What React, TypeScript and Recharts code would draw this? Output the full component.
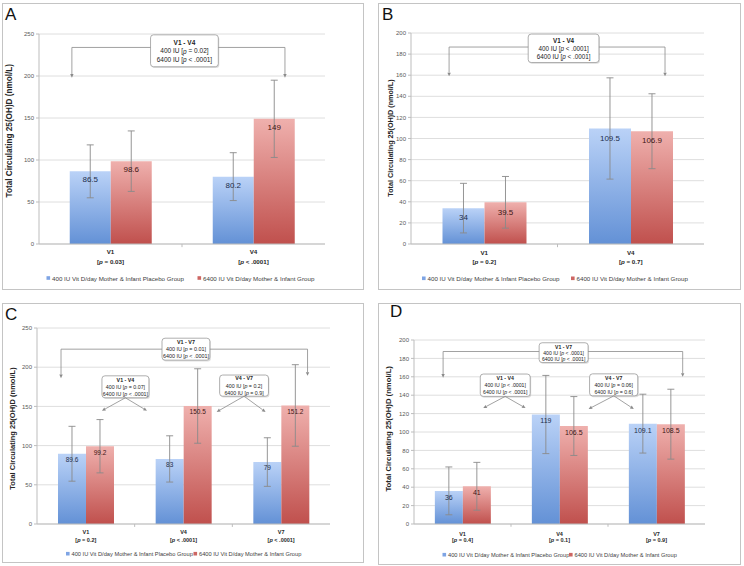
import React from 'react';
import {
  BarChart,
  Bar,
  XAxis,
  YAxis,
  CartesianGrid,
  ErrorBar,
  LabelList,
  ReferenceLine,
  ReferenceArea,
} from 'recharts';

// ---------------- DATA ----------------
const seriesNames = [
  '400 IU Vit D/day Mother & Infant Placebo Group',
  '6400 IU Vit D/day Mother & Infant Group',
];
const yAxisTitle = 'Total Circulating 25(OH)D (nmol/L)';

// Panel A
const catsA = ['V1', 'V4'];
const pA = [' = 0.03', ' < .0001'];
const placeboA = [86.5, 80.2];
const placeboErrA = [31.5, 28.5];
const highA = [98.6, 149];
const highErrA = [36, 46];
const ticksA = [0, 50, 100, 150, 200, 250];
const boxA = [{ title: 'V1 - V4', low: ' = 0.02', high: ' < .0001' }];

// Panel B
const catsB = ['V1', 'V4'];
const pB = [' = 0.2', ' = 0.7'];
const placeboB = [34, 109.5];
const placeboErrB = [23.5, 48];
const highB = [39.5, 106.9];
const highErrB = [24.5, 35.5];
const ticksB = [0, 20, 40, 60, 80, 100, 120, 140, 160, 180, 200];
const boxB = [{ title: 'V1 - V4', low: ' < .0001', high: ' < .0001' }];

// Panel C
const catsC = ['V1', 'V4', 'V7'];
const pC = [' = 0.2', ' < .0001', ' < .0001'];
const placeboC = [89.6, 83, 79];
const placeboErrC = [35, 29.5, 31];
const highC = [99.2, 150.5, 151.2];
const highErrC = [34, 47.5, 52];
const ticksC = [0, 50, 100, 150, 200, 250];
const boxC = [
  { title: 'V1 - V7', low: ' = 0.01', high: ' < .0001' },
  { title: 'V1 - V4', low: ' = 0.07', high: ' < .0001' },
  { title: 'V4 - V7', low: ' = 0.2', high: ' = 0.9' },
];

// Panel D
const catsD = ['V1', 'V4', 'V7'];
const pD = [' = 0.4', ' = 0.1', ' = 0.9'];
const placeboD = [36, 119, 109.1];
const placeboErrD = [26, 42.5, 32];
const highD = [41, 106.5, 108.5];
const highErrD = [26, 32, 38];
const ticksD = [0, 20, 40, 60, 80, 100, 120, 140, 160, 180, 200];
const boxD = [
  { title: 'V1 - V7', low: ' < .0001', high: ' < .0001' },
  { title: 'V1 - V4', low: ' < .0001', high: ' < .0001' },
  { title: 'V4 - V7', low: ' = 0.06', high: ' = 0.6' },
];

// ---------------- STYLE / LAYOUT ----------------
const FONT = '"Liberation Sans", Arial, sans-serif';
const LINE = '#8a8a8a';
const AXIS = '#bdbdbd';
const GRID = '#dedede';
const TXT = '#262626';

type BoxText = { title: string; low: string; high: string };

const panels = [
  {
    id: 'A',
    left: 2, top: 3, width: 362, height: 287,
    margin: { top: 31, right: 39, bottom: 22, left: 0 },
    yAxisWidth: 37, xAxisHeight: 24,
    cats: catsA, ps: pA, placebo: placeboA, placeboErr: placeboErrA, high: highA, highErr: highErrA,
    yMax: 250, ticks: ticksA,
    xFont: 6.2, xDy: [10.2, 20.2], yTickFont: 6,
    valueFont: 8, valueOffset: 5.2,
    yLabel: { x: 8, cy: 127.7, font: 8.2 },
    letter: { x: 5, y: 20 },
    legend: { y: 278, sq: [46.5, 197.5], font: 6.2 },
    boxes: [{ x1: 0.78, x2: 1.254, y1: 211, y2: 249, text: boxA[0], font: 6.5, gap: 8.5 }],
    brackets: [{ x1: 0.23, x2: 1.72, y: 234, tipL: 198, tipR: 198, gx1: 0.78, gx2: 1.254 }],
    arrows: [] as number[][],
  },
  {
    id: 'B',
    left: 378, top: 3, width: 363, height: 287,
    margin: { top: 30, right: 37, bottom: 22, left: 0 },
    yAxisWidth: 33, xAxisHeight: 24,
    cats: catsB, ps: pB, placebo: placeboB, placeboErr: placeboErrB, high: highB, highErr: highErrB,
    yMax: 200, ticks: ticksB,
    xFont: 6.2, xDy: [11, 20], yTickFont: 6,
    valueFont: 8, valueOffset: 6.5,
    yLabel: { x: 12, cy: 135, font: 7.2 },
    letter: { x: 382, y: 19.5 },
    legend: { y: 278.3, sq: [422, 571], font: 6.2 },
    boxes: [{ x1: 0.8, x2: 1.283, y1: 172, y2: 199, text: boxB[0], font: 6.3, gap: 8 }],
    brackets: [{ x1: 0.26, x2: 1.734, y: 186.7, tipL: 159, tipR: 159, gx1: 0.8, gx2: 1.283 }],
    arrows: [] as number[][],
  },
  {
    id: 'C',
    left: 2, top: 303, width: 362, height: 260,
    margin: { top: 25, right: 34, bottom: 17, left: 0 },
    yAxisWidth: 35, xAxisHeight: 22,
    cats: catsC, ps: pC, placebo: placeboC, placeboErr: placeboErrC, high: highC, highErr: highErrC,
    yMax: 250, ticks: ticksC,
    xFont: 5.5, xDy: [10, 17.5], yTickFont: 6,
    valueFont: 6.5, valueOffset: 3.7,
    yLabel: { x: 10, cy: 125.5, font: 7.5 },
    letter: { x: 5, y: 320 },
    legend: { y: 553.7, sq: [66, 193.5], font: 5.7 },
    boxes: [
      { x1: 1.28, x2: 1.77, y1: 209, y2: 237, text: boxC[0], font: 5.4, gap: 7 },
      { x1: 0.665, x2: 1.146, y1: 161, y2: 189, text: boxC[1], font: 5.3, gap: 7.2 },
      { x1: 1.87, x2: 2.37, y1: 163, y2: 190, text: boxC[2], font: 5.3, gap: 7.2 },
    ],
    brackets: [{ x1: 0.246, x2: 2.77, y: 223, tipL: 186, tipR: 189, gx1: 1.28, gx2: 1.77 }],
    arrows: [
      [0.905, 161, 0.665, 144.5],
      [0.905, 161, 1.126, 144.5],
      [2.12, 163, 1.84, 143],
      [2.12, 163, 2.34, 143],
    ],
  },
  {
    id: 'D',
    left: 378, top: 303, width: 363, height: 262,
    margin: { top: 37, right: 36, bottom: 19, left: 0 },
    yAxisWidth: 36, xAxisHeight: 22,
    cats: catsD, ps: pD, placebo: placeboD, placeboErr: placeboErrD, high: highD, highErr: highErrD,
    yMax: 200, ticks: ticksD,
    xFont: 5.5, xDy: [11.5, 18.3], yTickFont: 6,
    valueFont: 7, valueOffset: 4,
    yLabel: { x: 11, cy: 125.8, font: 7.7 },
    letter: { x: 390, y: 316.5 },
    legend: { y: 554.7, sq: [442.5, 569], font: 5.7 },
    boxes: [
      { x1: 1.29, x2: 1.795, y1: 175.5, y2: 197, text: boxD[0], font: 5.1, gap: 6 },
      { x1: 0.683, x2: 1.198, y1: 138.7, y2: 163, text: boxD[1], font: 5.2, gap: 7 },
      { x1: 1.81, x2: 2.307, y1: 139.3, y2: 163.2, text: boxD[2], font: 5.2, gap: 7 },
    ],
    brackets: [{ x1: 0.3, x2: 2.77, y: 187.5, tipL: 159, tipR: 160, gx1: 1.29, gx2: 1.795 }],
    arrows: [
      [0.94, 138.7, 0.714, 126],
      [0.94, 138.7, 1.15, 126],
      [2.06, 139.3, 1.8, 125],
      [2.06, 139.3, 2.266, 125],
    ],
  },
];

type Panel = (typeof panels)[number];

// ---------------- SHAPES ----------------
const lineShape = (head: boolean) => (props: any) => {
  const { x1, y1, x2, y2 } = props;
  const a = Math.atan2(y2 - y1, x2 - x1);
  const L = 3.6;
  const W = 1.7;
  const bx = x2 - L * Math.cos(a);
  const by = y2 - L * Math.sin(a);
  const px = -Math.sin(a) * W;
  const py = Math.cos(a) * W;
  return (
    <g>
      <line x1={x1} y1={y1} x2={head ? bx : x2} y2={head ? by : y2} stroke={LINE} strokeWidth={0.8} />
      {head && (
        <polygon
          points={`${x2},${y2} ${bx + px},${by + py} ${bx - px},${by - py}`}
          fill={LINE}
        />
      )}
    </g>
  );
};

const tickShape = (props: any) => {
  const { x1, y1, x2, y2 } = props;
  return <line x1={x1} y1={y1} x2={x2} y2={y2} stroke={AXIS} strokeWidth={1} />;
};

const boxShape = (t: BoxText, font: number, gap: number) => (props: any) => {
  const { x, y, width, height } = props;
  if (![x, y, width, height].every((v) => Number.isFinite(v))) return <g />;
  const cx = x + width / 2;
  const cy = y + height / 2;
  const common = {
    x: cx,
    textAnchor: 'middle' as const,
    dominantBaseline: 'central' as const,
    fontSize: font,
    fill: '#222',
  };
  return (
    <g>
      <rect x={x + 1} y={y + 1.3} width={width} height={height} rx={3} fill="#000" opacity={0.13} />
      <rect x={x} y={y} width={width} height={height} rx={3} fill="#fff" stroke="#9a9a9a" strokeWidth={0.8} />
      <text {...common} y={cy - gap} fontWeight="bold">{t.title}</text>
      <text {...common} y={cy}>
        {'400 IU ['}
        <tspan fontStyle="italic">p</tspan>
        {t.low + ']'}
      </text>
      <text {...common} y={cy + gap}>
        {'6400 IU ['}
        <tspan fontStyle="italic">p</tspan>
        {t.high + ']'}
      </text>
    </g>
  );
};

const makeXTick = (p: Panel) => (props: any) => {
  const { x, y, payload, index } = props;
  const i = typeof index === 'number' ? index : p.cats.indexOf(payload.value);
  return (
    <g transform={`translate(${x},${y})`}>
      <text textAnchor="middle" y={p.xDy[0]} fontSize={p.xFont} fontWeight="bold" fill={TXT}>
        {payload.value}
      </text>
      <text textAnchor="middle" y={p.xDy[1]} fontSize={p.xFont} fontWeight="bold" fill={TXT}>
        {'['}
        <tspan fontStyle="italic">p</tspan>
        {p.ps[i] + ']'}
      </text>
    </g>
  );
};

const makeYLabel = (p: Panel) => () => {
  const { x, cy, font } = p.yLabel;
  return (
    <text
      x={x}
      y={cy}
      transform={`rotate(-90 ${x} ${cy})`}
      textAnchor="middle"
      dominantBaseline="central"
      fontSize={font}
      fontWeight="bold"
      fill={TXT}
    >
      {yAxisTitle}
    </text>
  );
};

function annotationElements(p: Panel) {
  const els: React.ReactNode[] = [];
  const n = p.cats.length;
  const depth = p.yMax * 0.015;
  for (let k = 1; k < n; k++) {
    els.push(
      <ReferenceLine
        key={`tk${k}`}
        xAxisId="ann"
        ifOverflow="visible"
        segment={[{ x: k, y: 0 }, { x: k, y: -depth }]}
        shape={tickShape}
      />
    );
  }
  p.brackets.forEach((b, bi) => {
    els.push(
      <ReferenceLine key={`bl${bi}`} xAxisId="ann" segment={[{ x: b.x1, y: b.y }, { x: b.x1, y: b.tipL }]} shape={lineShape(true)} />,
      <ReferenceLine key={`bh1${bi}`} xAxisId="ann" segment={[{ x: b.x1, y: b.y }, { x: b.gx1, y: b.y }]} shape={lineShape(false)} />,
      <ReferenceLine key={`bh2${bi}`} xAxisId="ann" segment={[{ x: b.gx2, y: b.y }, { x: b.x2, y: b.y }]} shape={lineShape(false)} />,
      <ReferenceLine key={`br${bi}`} xAxisId="ann" segment={[{ x: b.x2, y: b.y }, { x: b.x2, y: b.tipR }]} shape={lineShape(true)} />
    );
  });
  p.arrows.forEach((a, ai) => {
    els.push(
      <ReferenceLine
        key={`ar${ai}`}
        xAxisId="ann"
        segment={[{ x: a[0], y: a[1] }, { x: a[2], y: a[3] }]}
        shape={lineShape(true)}
      />
    );
  });
  p.boxes.forEach((bx, i) => {
    els.push(
      <ReferenceArea
        key={`bx${i}`}
        xAxisId="ann"
        x1={bx.x1}
        x2={bx.x2}
        y1={bx.y1}
        y2={bx.y2}
        shape={boxShape(bx.text, bx.font, bx.gap)}
      />
    );
  });
  return els;
}

function PanelChart({ p }: { p: Panel }) {
  const rows = p.cats.map((c, i) => ({
    cat: c,
    pos: i + 0.5,
    placebo: p.placebo[i],
    placeboErr: p.placeboErr[i],
    high: p.high[i],
    highErr: p.highErr[i],
  }));
  const gb = `gBlue${p.id}`;
  const gr = `gRed${p.id}`;
  return (
    <BarChart
      width={p.width}
      height={p.height}
      data={rows}
      margin={p.margin}
      barCategoryGap="21.5%"
      barGap={0}
    >
      <defs>
        <linearGradient id={gb} x1="0" y1="0" x2="0" y2="1">
          <stop offset="0%" stopColor="#bad2f7" />
          <stop offset="100%" stopColor="#6391d6" />
        </linearGradient>
        <linearGradient id={gr} x1="0" y1="0" x2="0" y2="1">
          <stop offset="0%" stopColor="#efb0ad" />
          <stop offset="100%" stopColor="#c0504d" />
        </linearGradient>
      </defs>
      <CartesianGrid vertical={false} stroke={GRID} />
      <XAxis
        dataKey="cat"
        interval={0}
        height={p.xAxisHeight}
        tickLine={false}
        tickSize={0}
        tickMargin={0}
        axisLine={{ stroke: AXIS }}
        tick={makeXTick(p)}
      />
      <XAxis
        xAxisId="ann"
        dataKey="pos"
        type="number"
        domain={[0, p.cats.length]}
        allowDataOverflow
        hide
      />
      <YAxis
        domain={[0, p.yMax]}
        ticks={p.ticks}
        allowDataOverflow
        interval={0}
        width={p.yAxisWidth}
        tickSize={3}
        tickMargin={2}
        axisLine={{ stroke: AXIS }}
        tickLine={{ stroke: AXIS }}
        tick={{ fontSize: p.yTickFont, fill: '#595959' }}
        label={makeYLabel(p)}
      />
      <Bar dataKey="placebo" fill={`url(#${gb})`} isAnimationActive={false}>
        <ErrorBar dataKey="placeboErr" width={3.5} stroke={LINE} strokeWidth={0.9} isAnimationActive={false} />
        <LabelList
          dataKey="placebo"
          position="insideTop"
          offset={p.valueOffset}
          fontSize={p.valueFont}
          fill="#1e2e4c"
        />
      </Bar>
      <Bar dataKey="high" fill={`url(#${gr})`} isAnimationActive={false}>
        <ErrorBar dataKey="highErr" width={3.5} stroke={LINE} strokeWidth={0.9} isAnimationActive={false} />
        <LabelList
          dataKey="high"
          position="insideTop"
          offset={p.valueOffset}
          fontSize={p.valueFont}
          fill="#3e1513"
        />
      </Bar>
      {annotationElements(p)}
    </BarChart>
  );
}

export default function App() {
  return (
    <div
      style={{
        position: 'absolute',
        left: 0,
        top: 0,
        width: 744,
        height: 566,
        background: '#fff',
        fontFamily: FONT,
        overflow: 'hidden',
      }}
    >
      <svg width={744} height={566} style={{ position: 'absolute', left: 0, top: 0 }}>
        {panels.map((p) => (
          <g key={p.id}>
            <rect
              x={p.left + 0.5}
              y={p.top + 0.5}
              width={p.width - 1}
              height={p.height - 1}
              fill="none"
              stroke="#c4c4c4"
            />
            <text x={p.letter.x} y={p.letter.y} fontSize={17} fill="#111" fontFamily={FONT}>
              {p.id}
            </text>
            {seriesNames.map((s, i) => (
              <g key={s}>
                <rect
                  x={p.legend.sq[i]}
                  y={p.legend.y - 1.8}
                  width={3.6}
                  height={3.6}
                  fill={i === 0 ? '#7ea4e4' : '#cd6663'}
                />
                <text
                  x={p.legend.sq[i] + 5.5}
                  y={p.legend.y}
                  dominantBaseline="central"
                  fontSize={p.legend.font}
                  fill="#404040"
                  fontFamily={FONT}
                >
                  {s}
                </text>
              </g>
            ))}
          </g>
        ))}
      </svg>
      {panels.map((p) => (
        <div key={p.id} style={{ position: 'absolute', left: p.left, top: p.top }}>
          <PanelChart p={p} />
        </div>
      ))}
    </div>
  );
}
